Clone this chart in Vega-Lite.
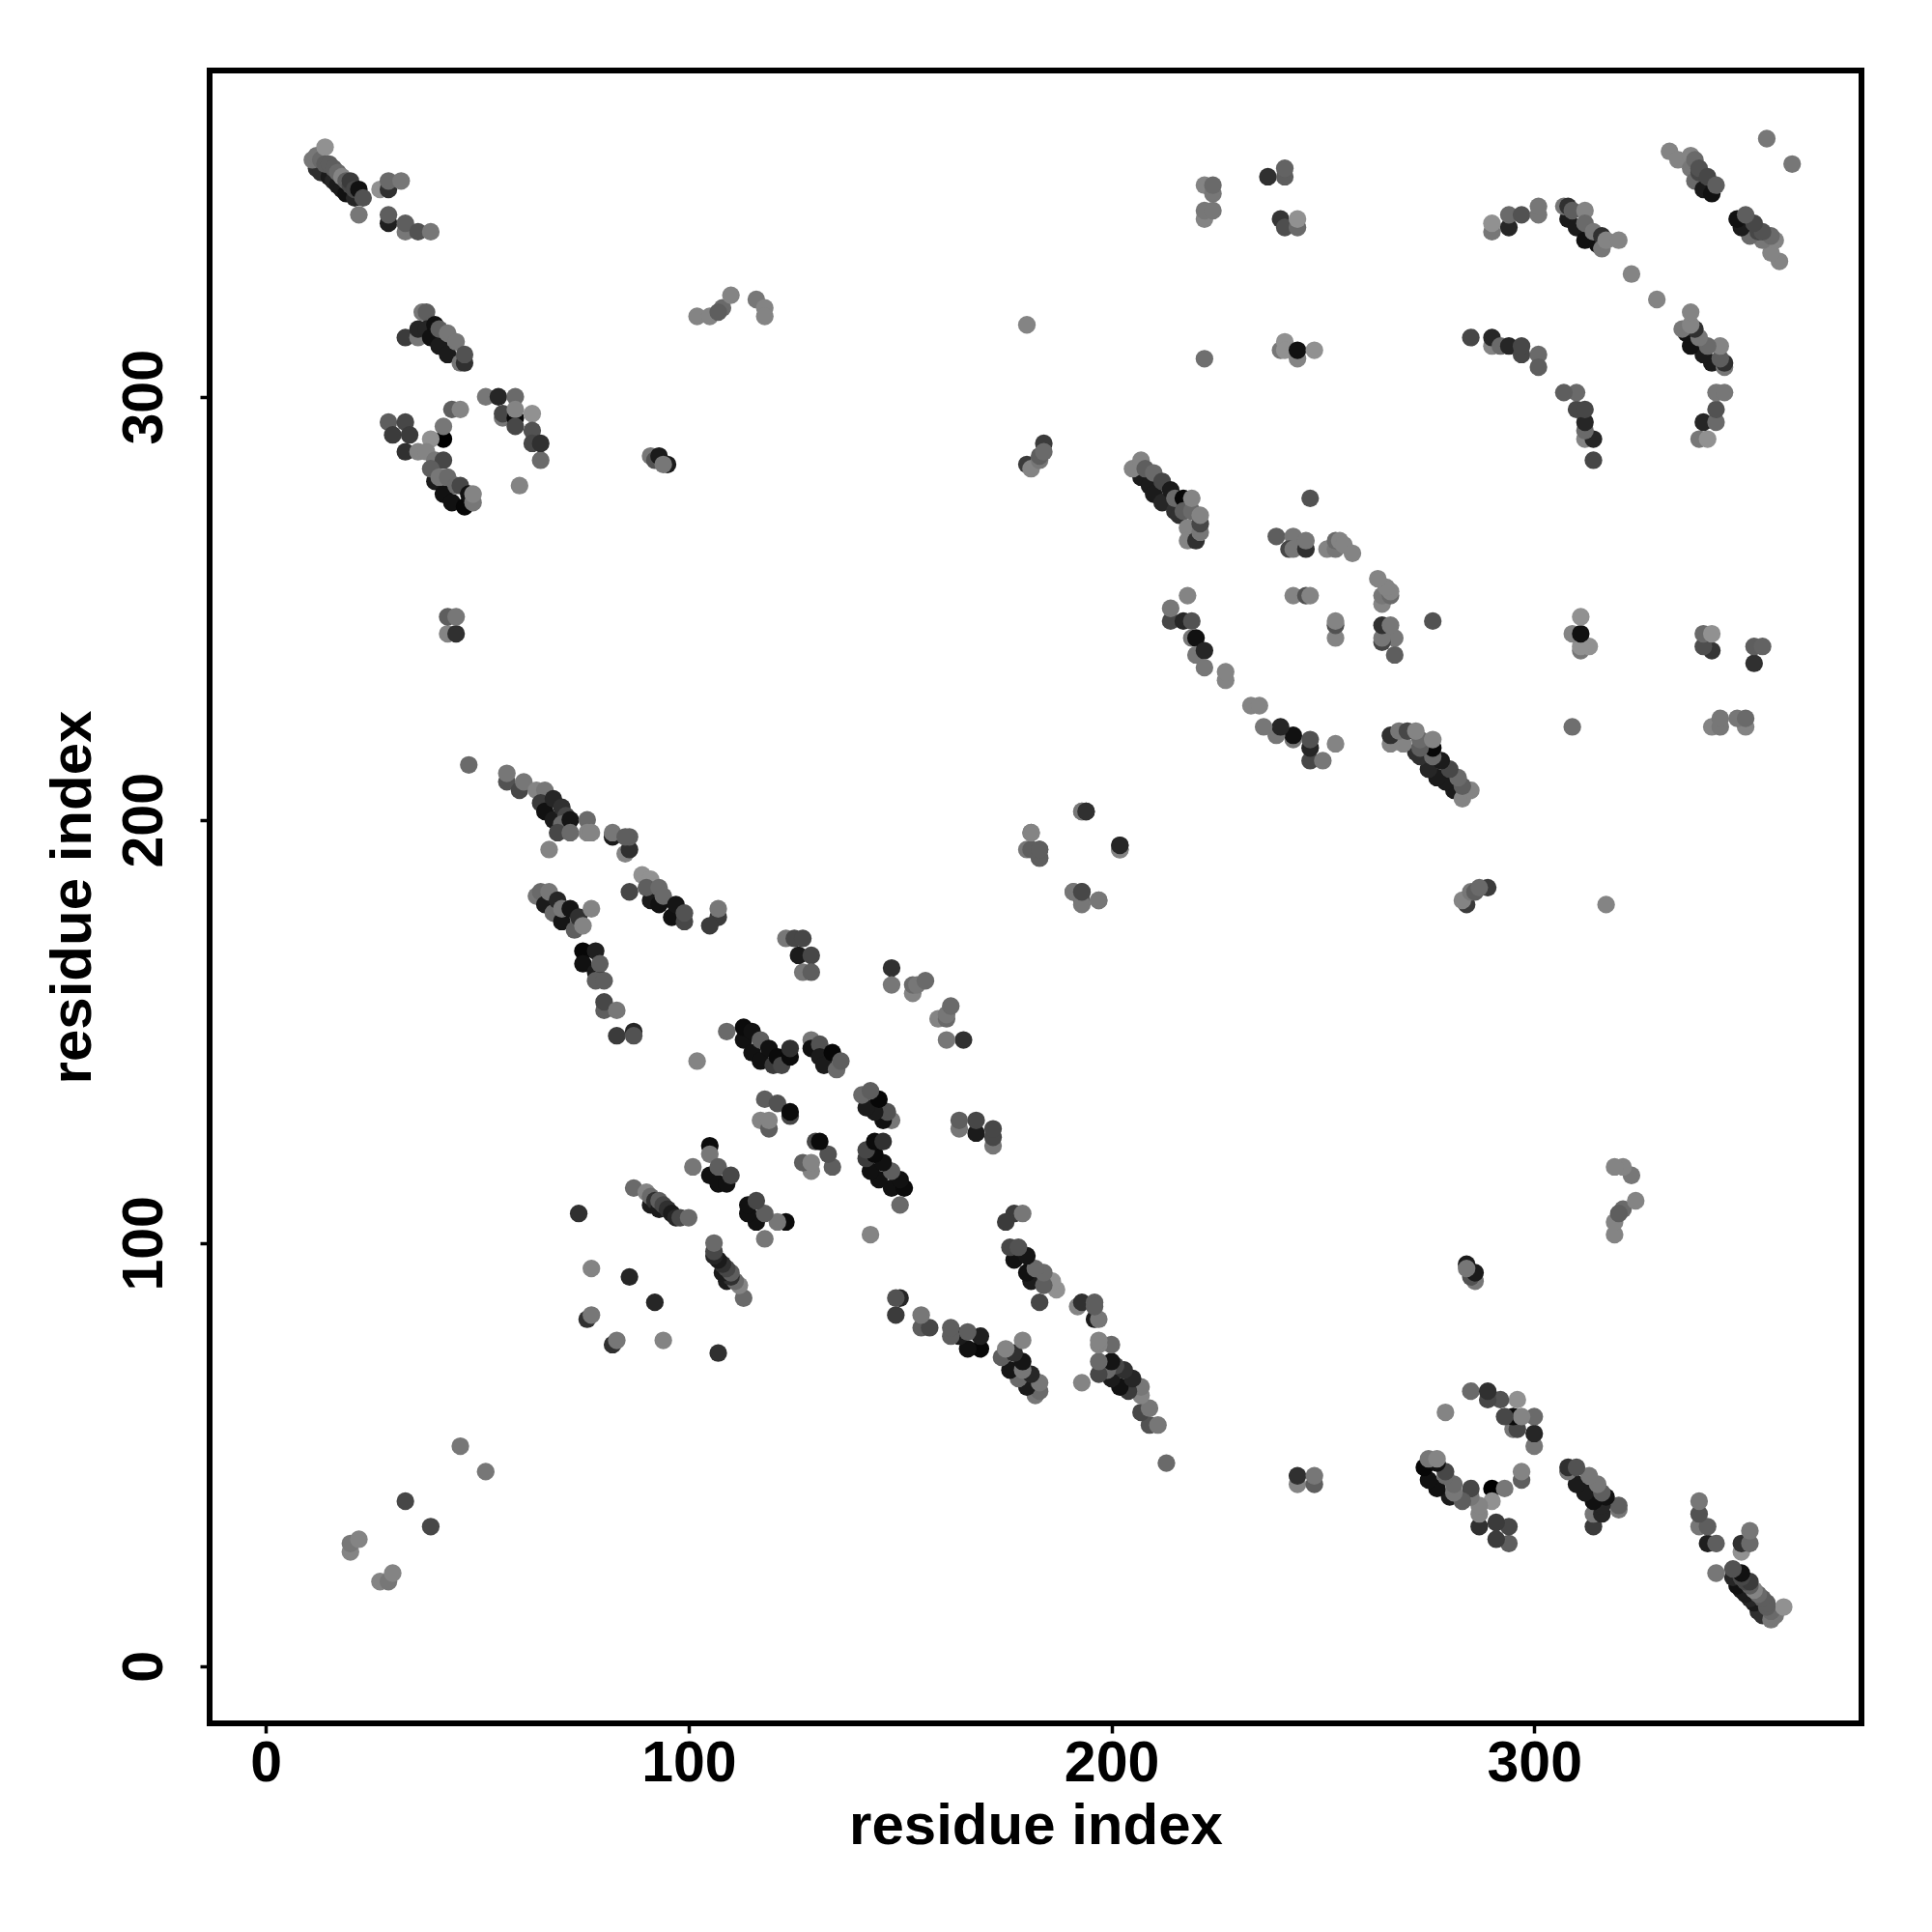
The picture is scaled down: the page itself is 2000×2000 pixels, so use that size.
{"$schema":"https://vega.github.io/schema/vega-lite/v6.json","autosize":{"type":"none"},"padding":{"left":217,"top":73,"right":73,"bottom":216},"width":1710,"height":1711,"background":"white","config":{"view":{"stroke":"black","strokeWidth":6,"fill":"white"},"axis":{"grid":false,"domain":false,"tickColor":"black","tickWidth":3.5,"tickSize":10,"labelFont":"Liberation Sans","labelFontWeight":"bold","labelFontSize":59,"labelColor":"black","titleFont":"Liberation Sans","titleFontWeight":"bold","titleFontSize":60,"titleColor":"black"}},"data":{"values":[
{"a":12,"b":354,"v":0.2},{"a":13,"b":353,"v":0.2},{"a":15,"b":352,"v":0.1},{"a":16,"b":351,"v":0.15},{"a":17,"b":350,"v":0.1},{"a":18,"b":349,"v":0.1},{"a":19,"b":348,"v":0.05},{"a":21,"b":347,"v":0.15},{"a":11,"b":356,"v":0.5},{"a":12,"b":357,"v":0.5},{"a":13,"b":356,"v":0.45},{"a":14,"b":359,"v":0.6},{"a":14,"b":355,"v":0.4},{"a":15,"b":355,"v":0.4},{"a":16,"b":354,"v":0.4},{"a":17,"b":353,"v":0.45},{"a":18,"b":352,"v":0.55},{"a":19,"b":351,"v":0.4},{"a":20,"b":350,"v":0.3},{"a":20,"b":351,"v":0.25},{"a":21,"b":349,"v":0.3},{"a":22,"b":349,"v":0.05},{"a":22,"b":343,"v":0.5},{"a":23,"b":347,"v":0.35},
{"a":27,"b":349,"v":0.6},{"a":29,"b":349,"v":0.2},{"a":29,"b":351,"v":0.45},{"a":32,"b":351,"v":0.5},{"a":29,"b":341,"v":0.12},{"a":29,"b":343,"v":0.4},{"a":33,"b":339,"v":0.5},{"a":33,"b":341,"v":0.4},{"a":36,"b":339,"v":0.35},{"a":39,"b":339,"v":0.5},
{"a":37,"b":320,"v":0.5},{"a":38,"b":320,"v":0.4},{"a":33,"b":314,"v":0.25},{"a":36,"b":314,"v":0.5},{"a":36,"b":316,"v":0.15},{"a":38,"b":316,"v":0.15},{"a":39,"b":314,"v":0.05},{"a":40,"b":317,"v":0.05},{"a":41,"b":312,"v":0.1},{"a":41,"b":316,"v":0.4},{"a":43,"b":310,"v":0.1},{"a":43,"b":315,"v":0.5},{"a":45,"b":313,"v":0.5},{"a":46,"b":308,"v":0.5},{"a":47,"b":308,"v":0.2},{"a":47,"b":310,"v":0.35},
{"a":52,"b":300,"v":0.5},{"a":55,"b":300,"v":0.15},{"a":59,"b":300,"v":0.45},{"a":56,"b":295,"v":0.5},{"a":56,"b":296,"v":0.3},{"a":59,"b":295,"v":0.03},{"a":59,"b":297,"v":0.55},{"a":63,"b":296,"v":0.6},{"a":59,"b":293,"v":0.3},{"a":63,"b":292,"v":0.35},{"a":63,"b":289,"v":0.3},{"a":65,"b":285,"v":0.45},{"a":65,"b":289,"v":0.2},{"a":60,"b":279,"v":0.55},
{"a":44,"b":297,"v":0.4},{"a":46,"b":297,"v":0.55},{"a":42,"b":290,"v":0},{"a":42,"b":293,"v":0.5},{"a":29,"b":294,"v":0.4},{"a":33,"b":294,"v":0.3},{"a":30,"b":291,"v":0.25},{"a":34,"b":291,"v":0.25},{"a":33,"b":287,"v":0.2},{"a":36,"b":287,"v":0.55},{"a":39,"b":290,"v":0.6},{"a":38,"b":287,"v":0.55},{"a":40,"b":280,"v":0.1},{"a":42,"b":277,"v":0.05},{"a":44,"b":275,"v":0.05},{"a":47,"b":274,"v":0.02},{"a":40,"b":285,"v":0.5},{"a":42,"b":285,"v":0.3},{"a":39,"b":283,"v":0.4},{"a":41,"b":281,"v":0.5},{"a":43,"b":281,"v":0.45},{"a":45,"b":279,"v":0.45},{"a":46,"b":279,"v":0.3},{"a":48,"b":277,"v":0.05},{"a":49,"b":275,"v":0.5},{"a":49,"b":277,"v":0.55},
{"a":43,"b":244,"v":0.55},{"a":45,"b":244,"v":0.2},{"a":43,"b":248,"v":0.4},{"a":45,"b":248,"v":0.5},
{"a":91,"b":286,"v":0.5},{"a":92,"b":285,"v":0.35},{"a":93,"b":286,"v":0.1},{"a":95,"b":284,"v":0.1},{"a":94,"b":284,"v":0.5},
{"a":48,"b":213,"v":0.45},{"a":57,"b":209,"v":0.35},{"a":57,"b":211,"v":0.5},{"a":60,"b":207,"v":0.3},{"a":61,"b":209,"v":0.5},{"a":64,"b":207,"v":0.55},{"a":66,"b":207,"v":0.5},{"a":65,"b":204,"v":0.25},{"a":66,"b":202,"v":0.05},{"a":68,"b":205,"v":0.15},{"a":68,"b":200,"v":0.1},{"a":70,"b":203,"v":0.2},{"a":71,"b":201,"v":0.3},{"a":70,"b":199,"v":0.45},{"a":72,"b":200,"v":0.07},{"a":76,"b":200,"v":0.45},{"a":69,"b":197,"v":0.3},{"a":72,"b":197,"v":0.45},{"a":76,"b":197,"v":0.55},{"a":77,"b":197,"v":0.55},{"a":67,"b":193,"v":0.55},
{"a":82,"b":196,"v":0.1},{"a":82,"b":197,"v":0.5},{"a":85,"b":192,"v":0.55},{"a":86,"b":193,"v":0.2},{"a":86,"b":196,"v":0.4},{"a":85,"b":196,"v":0.4},
{"a":86,"b":183,"v":0.3},{"a":91,"b":181,"v":0.1},{"a":93,"b":180,"v":0.05},{"a":96,"b":177,"v":0.05},{"a":89,"b":187,"v":0.6},{"a":91,"b":186,"v":0.6},{"a":90,"b":184,"v":0.4},{"a":93,"b":184,"v":0.45},{"a":94,"b":182,"v":0.45},{"a":97,"b":180,"v":0.07},{"a":99,"b":176,"v":0.3},{"a":99,"b":178,"v":0.35},
{"a":107,"b":177,"v":0.25},{"a":107,"b":179,"v":0.5},{"a":105,"b":175,"v":0.25},
{"a":64,"b":182,"v":0.5},{"a":65,"b":183,"v":0.45},{"a":66,"b":180,"v":0.1},{"a":67,"b":183,"v":0.5},{"a":68,"b":178,"v":0.45},{"a":69,"b":181,"v":0.15},{"a":70,"b":176,"v":0.07},{"a":70,"b":179,"v":0.5},{"a":72,"b":179,"v":0.07},{"a":73,"b":174,"v":0.4},{"a":74,"b":177,"v":0.2},{"a":75,"b":175,"v":0.55},{"a":77,"b":179,"v":0.55},
{"a":75,"b":169,"v":0.02},{"a":78,"b":169,"v":0.12},{"a":75,"b":166,"v":0.05},{"a":78,"b":164,"v":0.1},{"a":79,"b":166,"v":0.4},{"a":78,"b":162,"v":0.4},{"a":80,"b":162,"v":0.4},{"a":80,"b":155,"v":0.4},{"a":80,"b":157,"v":0.3},{"a":83,"b":155,"v":0.5},{"a":83,"b":149,"v":0.25},{"a":87,"b":150,"v":0.15},{"a":87,"b":149,"v":0.35},
{"a":123,"b":172,"v":0.5},{"a":125,"b":172,"v":0.3},{"a":127,"b":172,"v":0.3},{"a":126,"b":168,"v":0.1},{"a":129,"b":168,"v":0.3},{"a":127,"b":164,"v":0.5},{"a":129,"b":164,"v":0.4},
{"a":148,"b":165,"v":0.2},{"a":148,"b":161,"v":0.5},{"a":153,"b":159,"v":0.55},{"a":153,"b":161,"v":0.45},{"a":154,"b":161,"v":0.5},{"a":156,"b":162,"v":0.45},
{"a":109,"b":150,"v":0.45},{"a":113,"b":148,"v":0.05},{"a":115,"b":145,"v":0.05},{"a":117,"b":143,"v":0.05},{"a":113,"b":151,"v":0.03},{"a":115,"b":150,"v":0.05},{"a":117,"b":148,"v":0.4},{"a":119,"b":146,"v":0.05},{"a":120,"b":142,"v":0.25},{"a":121,"b":144,"v":0.03},{"a":122,"b":142,"v":0.3},{"a":124,"b":144,"v":0.03},{"a":124,"b":146,"v":0.2},
{"a":129,"b":148,"v":0.5},{"a":129,"b":146,"v":0.05},{"a":131,"b":147,"v":0.35},{"a":131,"b":144,"v":0.1},{"a":132,"b":142,"v":0.1},{"a":134,"b":145,"v":0.02},{"a":135,"b":141,"v":0.45},{"a":136,"b":143,"v":0.4},{"a":102,"b":143,"v":0.55},
{"a":118,"b":134,"v":0.4},{"a":121,"b":133,"v":0.35},{"a":124,"b":130,"v":0.3},{"a":124,"b":131,"v":0.03},{"a":117,"b":129,"v":0.55},{"a":119,"b":127,"v":0.4},{"a":119,"b":129,"v":0.55},
{"a":105,"b":116,"v":0.05},{"a":107,"b":114,"v":0.05},{"a":109,"b":114,"v":0.05},{"a":105,"b":123,"v":0.03},{"a":105,"b":121,"v":0.5},{"a":107,"b":118,"v":0.4},{"a":110,"b":116,"v":0.3},{"a":101,"b":118,"v":0.5},
{"a":74,"b":107,"v":0.2},{"a":77,"b":94,"v":0.55},{"a":76,"b":82,"v":0.2},{"a":77,"b":83,"v":0.5},{"a":86,"b":92,"v":0.15},
{"a":87,"b":113,"v":0.45},{"a":91,"b":109,"v":0.1},{"a":90,"b":112,"v":0.55},{"a":91,"b":111,"v":0.45},{"a":92,"b":110,"v":0.2},{"a":93,"b":108,"v":0.1},{"a":93,"b":110,"v":0.4},{"a":94,"b":109,"v":0.3},{"a":95,"b":108,"v":0.2},{"a":96,"b":107,"v":0.1},{"a":97,"b":106,"v":0.15},{"a":98,"b":106,"v":0.3},{"a":100,"b":106,"v":0.45},
{"a":20,"b":27,"v":0.55},{"a":20,"b":29,"v":0.5},{"a":22,"b":30,"v":0.55},{"a":33,"b":39,"v":0.3},{"a":46,"b":52,"v":0.5},
{"a":207,"b":281,"v":0.1},{"a":209,"b":279,"v":0.1},{"a":210,"b":277,"v":0.1},{"a":212,"b":275,"v":0.15},{"a":205,"b":283,"v":0.55},{"a":207,"b":285,"v":0.55},{"a":208,"b":283,"v":0.4},{"a":210,"b":282,"v":0.45},{"a":212,"b":280,"v":0.3},{"a":214,"b":278,"v":0.1},{"a":215,"b":273,"v":0.2},{"a":215,"b":276,"v":0.45},{"a":216,"b":272,"v":0.2},{"a":217,"b":276,"v":0.02},{"a":217,"b":273,"v":0.4},{"a":218,"b":269,"v":0.55},{"a":218,"b":266,"v":0.55},{"a":219,"b":273,"v":0.45},{"a":220,"b":266,"v":0.2},{"a":221,"b":268,"v":0.5},{"a":221,"b":270,"v":0.3},{"a":219,"b":276,"v":0.55},{"a":221,"b":272,"v":0.55},
{"a":247,"b":276,"v":0.35},{"a":239,"b":267,"v":0.4},{"a":243,"b":267,"v":0.5},{"a":242,"b":264,"v":0.3},{"a":243,"b":264,"v":0.5},{"a":246,"b":264,"v":0.2},{"a":246,"b":266,"v":0.5},{"a":251,"b":264,"v":0.55},{"a":253,"b":264,"v":0.5},{"a":253,"b":266,"v":0.45},{"a":254,"b":266,"v":0.55},{"a":255,"b":265,"v":0.55},{"a":257,"b":263,"v":0.55},
{"a":243,"b":253,"v":0.55},{"a":246,"b":253,"v":0.35},{"a":247,"b":253,"v":0.55},
{"a":218,"b":253,"v":0.55},{"a":214,"b":247,"v":0.3},{"a":214,"b":250,"v":0.5},{"a":217,"b":247,"v":0.15},{"a":219,"b":247,"v":0.35},{"a":219,"b":243,"v":0.5},{"a":220,"b":243,"v":0.05},{"a":220,"b":239,"v":0.5},{"a":222,"b":240,"v":0.15},{"a":222,"b":236,"v":0.5},{"a":227,"b":233,"v":0.55},{"a":227,"b":235,"v":0.55},
{"a":332,"b":358,"v":0.55},{"a":334,"b":356,"v":0.55},{"a":337,"b":357,"v":0.55},{"a":337,"b":354,"v":0.5},{"a":338,"b":351,"v":0.45},{"a":340,"b":349,"v":0.1},{"a":342,"b":348,"v":0.05},{"a":338,"b":356,"v":0.45},{"a":339,"b":353,"v":0.3},{"a":339,"b":354,"v":0.35},{"a":341,"b":352,"v":0.3},{"a":343,"b":350,"v":0.4},{"a":355,"b":361,"v":0.5},
{"a":290,"b":339,"v":0.5},{"a":290,"b":341,"v":0.6},{"a":294,"b":340,"v":0.15},{"a":294,"b":343,"v":0.45},{"a":297,"b":343,"v":0.35},{"a":301,"b":343,"v":0.5},{"a":301,"b":345,"v":0.5},
{"a":308,"b":342,"v":0.1},{"a":310,"b":340,"v":0.1},{"a":312,"b":337,"v":0.05},{"a":315,"b":336,"v":0.05},{"a":307,"b":345,"v":0.5},{"a":308,"b":345,"v":0.2},{"a":309,"b":344,"v":0.4},{"a":312,"b":344,"v":0.55},{"a":312,"b":341,"v":0.45},{"a":314,"b":339,"v":0.5},{"a":316,"b":338,"v":0.2},{"a":316,"b":335,"v":0.5},{"a":317,"b":337,"v":0.55},{"a":320,"b":337,"v":0.55},{"a":323,"b":329,"v":0.55},
{"a":285,"b":314,"v":0.3},{"a":290,"b":312,"v":0.55},{"a":290,"b":314,"v":0.15},{"a":292,"b":312,"v":0.45},{"a":294,"b":312,"v":0.15},{"a":297,"b":310,"v":0.3},{"a":297,"b":312,"v":0.3},{"a":301,"b":310,"v":0.45},{"a":301,"b":307,"v":0.4},
{"a":222,"b":350,"v":0.55},{"a":224,"b":348,"v":0.5},{"a":224,"b":350,"v":0.45},{"a":222,"b":342,"v":0.55},{"a":222,"b":344,"v":0.5},{"a":224,"b":344,"v":0.5},
{"a":237,"b":352,"v":0.2},{"a":241,"b":352,"v":0.4},{"a":241,"b":354,"v":0.42},{"a":240,"b":342,"v":0.22},{"a":241,"b":340,"v":0.33},{"a":244,"b":340,"v":0.45},{"a":244,"b":342,"v":0.6},
{"a":222,"b":309,"v":0.47},{"a":240,"b":311,"v":0.5},{"a":241,"b":313,"v":0.6},{"a":241,"b":311,"v":0.6},{"a":244,"b":309,"v":0.55},{"a":244,"b":311,"v":0.05},{"a":248,"b":311,"v":0.6},
{"a":102,"b":319,"v":0.55},{"a":105,"b":319,"v":0.55},{"a":108,"b":321,"v":0.45},{"a":107,"b":320,"v":0.4},{"a":110,"b":324,"v":0.55},{"a":116,"b":323,"v":0.5},{"a":118,"b":321,"v":0.55},{"a":118,"b":319,"v":0.55},{"a":180,"b":317,"v":0.55},
{"a":180,"b":284,"v":0.25},{"a":181,"b":283,"v":0.55},{"a":183,"b":285,"v":0.5},{"a":183,"b":286,"v":0.4},{"a":184,"b":289,"v":0.25},{"a":184,"b":287,"v":0.45},
{"a":181,"b":197,"v":0.5},{"a":180,"b":193,"v":0.5},{"a":183,"b":191,"v":0.5},{"a":183,"b":193,"v":0.3},{"a":191,"b":183,"v":0.4},{"a":193,"b":181,"v":0.4},{"a":193,"b":183,"v":0.4},{"a":197,"b":181,"v":0.55},{"a":193,"b":202,"v":0.55},{"a":194,"b":202,"v":0.15},{"a":202,"b":193,"v":0.5},{"a":202,"b":194,"v":0.2}
]},"layer":[{"mark":{"type":"circle","size":335,"opacity":1},"encoding":{"x":{"field":"a","type":"quantitative","title":"residue index","scale":{"domain":[-13.3,377.4],"nice":false,"zero":false},"axis":{"values":[0,100,200,300],"labelPadding":2,"titlePadding":6,"format":"d"}},"y":{"field":"b","type":"quantitative","title":"residue index","scale":{"domain":[-13.5,377.1],"nice":false,"zero":false},"axis":{"values":[0,100,200,300],"labelAngle":-90,"labelAlign":"center","labelBaseline":"bottom","labelPadding":28,"titlePadding":14,"format":"d"}},"color":{"field":"v","type":"quantitative","legend":null,"scale":{"domain":[0,1],"range":["#000000","#ffffff"]}}}},{"mark":{"type":"circle","size":335,"opacity":1},"encoding":{"x":{"field":"b","type":"quantitative","title":"residue index","scale":{"domain":[-13.3,377.4],"nice":false,"zero":false}},"y":{"field":"a","type":"quantitative","title":"residue index","scale":{"domain":[-13.5,377.1],"nice":false,"zero":false}},"color":{"field":"v","type":"quantitative","legend":null,"scale":{"domain":[0,1],"range":["#000000","#ffffff"]}}}}]}
